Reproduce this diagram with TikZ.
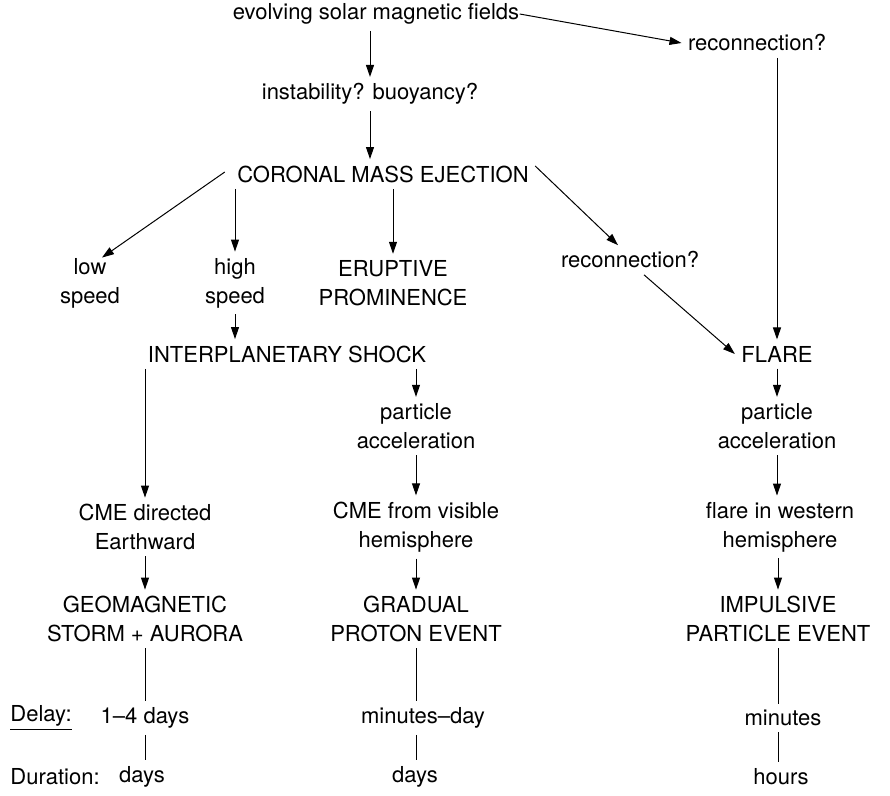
\documentclass[tikz,border=0pt]{standalone}
\usepackage{fontspec}
\setmainfont{TeX Gyre Heros}
\usetikzlibrary{arrows.meta}
\tikzset{every picture/.style={line width=0.5pt}}
\tikzset{
txt/.style={align=center, inner sep=3pt, font=\fontsize{11}{14.5}\selectfont},
arr/.style={-{Triangle[length=6pt,width=4pt]}},
}

\begin{document}
\begin{tikzpicture}[x=0.5pt,y=0.5pt,yscale=-1,xscale=1]
\useasboundingbox (0,0) rectangle (890,796);

%Text: top of chain
\node[txt] (fields) at (376,14) {evolving solar magnetic fields};
\node[txt] (recA) at (757,43) {reconnection?};
\node[txt] (instab) at (370,94) {instability? buoyancy?};
\node[txt] (cme) at (383,174) {CORONAL MASS EJECTION};
%Text: CME branches
\node[txt] (low) at (90,283) {low\\speed};
\node[txt] (high) at (235,283) {high\\speed};
\node[txt] (erupt) at (393,283) {ERUPTIVE\\PROMINENCE};
\node[txt] (recB) at (630,260) {reconnection?};
\node[txt] (shock) at (287,354) {INTERPLANETARY SHOCK};
\node[txt] (flare) at (777,354) {FLARE};
%Text: three columns
\node[txt] (accA) at (416,426) {particle\\acceleration};
\node[txt] (accB) at (777,426) {particle\\acceleration};
\node[txt] (earth) at (145,527) {CME directed\\Earthward};
\node[txt] (visible) at (416,527) {CME from visible\\hemisphere};
\node[txt] (western) at (780,527) {flare in western\\hemisphere};
\node[txt] (geo) at (145,619) {GEOMAGNETIC\\STORM + AURORA};
\node[txt] (gradual) at (416,619) {GRADUAL\\PROTON EVENT};
\node[txt] (impulse) at (778,619) {IMPULSIVE\\PARTICLE EVENT};
%Text: delay and duration rows
\node[txt, anchor=west, inner sep=0pt] (delay) at (10,718) {\underline{Delay:}};
\node[txt] (dlyA) at (145,718) {1--4 days};
\node[txt] (dlyB) at (423,718) {minutes--day};
\node[txt] (dlyC) at (783,718) {minutes};
\node[txt, anchor=west, inner sep=0pt] (durat) at (10,777) {Duration:};
\node[txt] (durA) at (142,777) {days};
\node[txt] (durB) at (415,777) {days};
\node[txt] (durC) at (781,777) {hours};

%Arrows
\draw[arr] ([xshift=-3pt]fields.east) -- (recA.west);
\draw[arr] (fields.south -| instab) -- (instab.north);
\draw[arr] (instab.south) -- (instab.south |- cme.north);
\draw[arr] ([xshift=-3pt,yshift=-1pt]cme.west) -- ([xshift=6pt,yshift=3pt]low.north);
\draw[arr] (cme.south -| high) -- (high.north);
\draw[arr] (cme.south -| erupt) -- (erupt.north);
\draw[arr] ([yshift=-4pt]cme.east) -- ([xshift=-6pt]recB.north);
\draw[arr] ([xshift=7pt]recB.south) -- (flare.west);
\draw[arr] (recA.south -| flare) -- (flare.north);
\draw[arr] (high.south) -- (high.south |- shock.north);
\draw[arr] (shock.south -| earth) -- (earth.north);
\draw[arr] (shock.south -| accA) -- (accA.north);
\draw[arr] (flare.south) -- (flare.south |- accB.north);
\draw[arr] (accA.south) -- (visible.north -| accA);
\draw[arr] (accB.south) -- (western.north -| accB);
\draw[arr] (earth.south) -- (geo.north);
\draw[arr] (visible.south) -- (gradual.north);
\draw[arr] (western.south -| impulse) -- (impulse.north);

%Lines to delay and duration
\draw (geo.south) -- (dlyA.north -| geo);
\draw (dlyA.south -| geo) -- (durA.north -| geo);
\draw (gradual.south) -- (dlyB.north -| gradual);
\draw (dlyB.south -| gradual) -- (durB.north -| gradual);
\draw (impulse.south) -- (dlyC.north -| impulse);
\draw (dlyC.south -| impulse) -- (durC.north -| impulse);

\end{tikzpicture}
\end{document}
